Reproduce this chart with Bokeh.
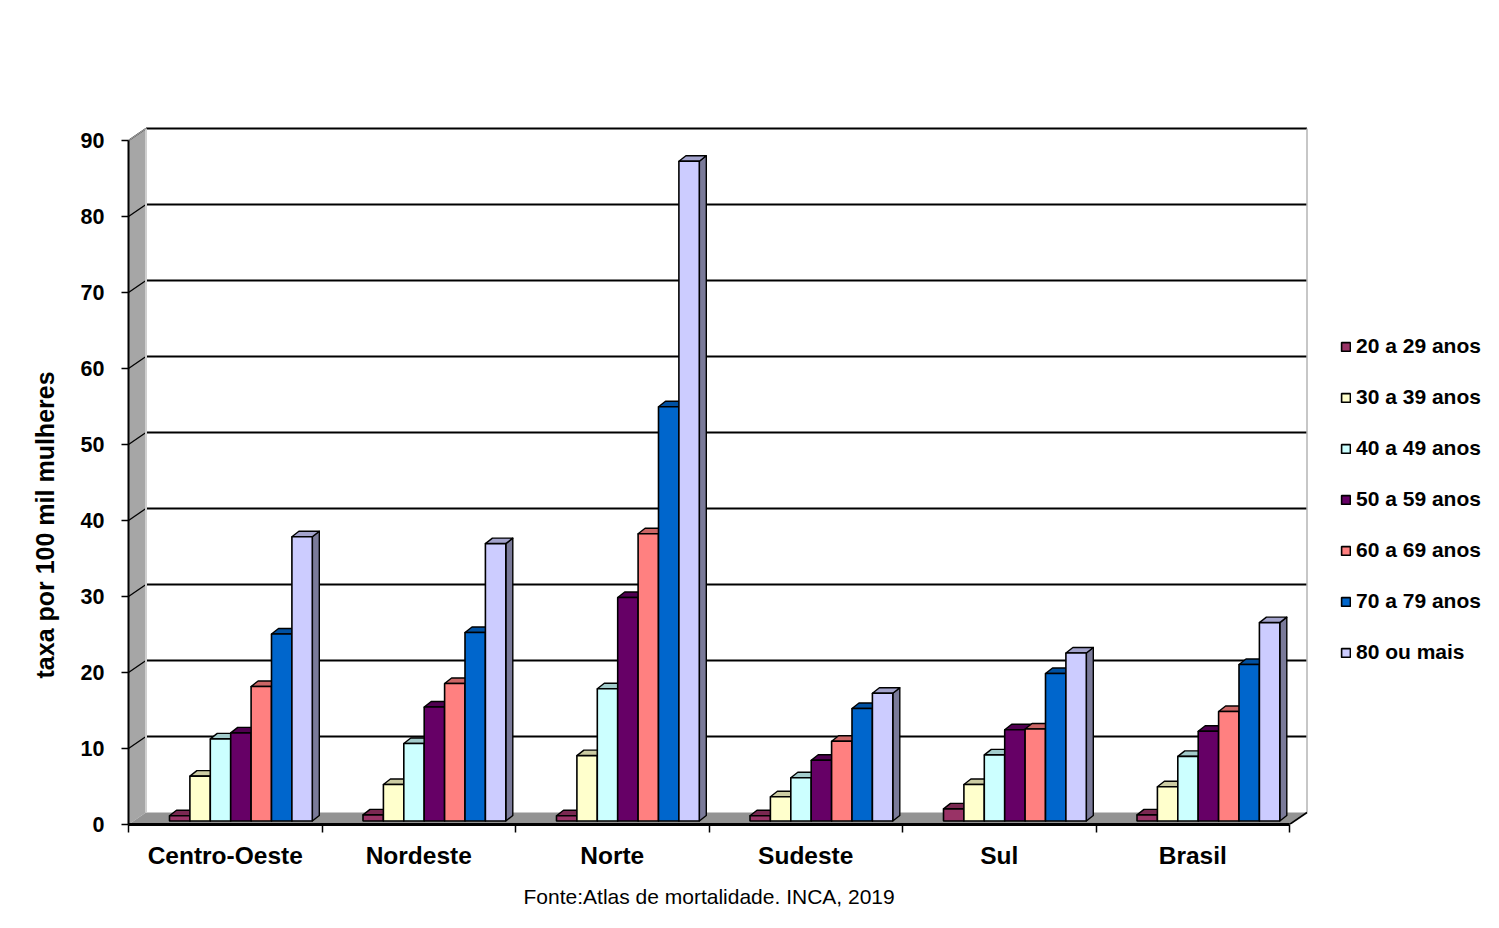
from bokeh.plotting import figure
from bokeh.models import (Range1d, LinearAxis, FixedTicker, Legend, LegendItem,
                          Title, ColumnDataSource)
from bokeh.embed import file_html
from bokeh.resources import INLINE

# ---------------- data ----------------
regions = ["Centro-Oeste", "Nordeste", "Norte", "Sudeste", "Sul", "Brasil"]
age_groups = ["20 a 29 anos", "30 a 39 anos", "40 a 49 anos", "50 a 59 anos",
              "60 a 69 anos", "70 a 79 anos", "80 ou mais"]
a20_29 = [0.7, 0.8, 0.7, 0.7, 1.6, 0.8]
a30_39 = [5.9, 4.8, 8.6, 3.2, 4.8, 4.5]
a40_49 = [10.8, 10.2, 17.4, 5.7, 8.7, 8.5]
a50_59 = [11.6, 15.0, 29.4, 8.0, 12.0, 11.8]
a60_69 = [17.7, 18.1, 37.8, 10.5, 12.1, 14.4]
a70_79 = [24.6, 24.8, 54.5, 14.8, 19.4, 20.6]
a80_mais = [37.4, 36.5, 86.8, 16.8, 22.1, 26.1]
series = [a20_29, a30_39, a40_49, a50_59, a60_69, a70_79, a80_mais]
y_ticks = [0, 10, 20, 30, 40, 50, 60, 70, 80, 90]
y_title = "taxa por 100 mil mulheres"
source_note = "Fonte:Atlas de mortalidade. INCA, 2019"

# ---------------- style ----------------
colors = ["#993366", "#FFFFCC", "#CCFFFF", "#660066", "#FF8080", "#0066CC", "#CCCCFF"]
FONT = "Liberation Sans"


def shade(hex_color, f):
    h = hex_color.lstrip("#")
    r, g, b = (int(h[i:i + 2], 16) for i in (0, 2, 4))
    return "#%02x%02x%02x" % (int(r * f), int(g * f), int(b * f))


PX_X = 193.5          # pixels per category
PX_Y = 7.6            # pixels per unit
FW, FH = 1367, 704
Y_MAX = 90

DXW = 17.5 / PX_X     # wall depth offset
DYW = 12.0 / PX_Y
DXB = 7.0 / PX_X      # bar depth offset
DYB = 5.5 / PX_Y
BASE = 3.5 / PX_Y     # bar front plane lift
BW = 20.4 / PX_X      # bar width
GOFF = -0.2881        # first bar left edge relative to category centre

p = figure(frame_width=FW, frame_height=FH,
           x_range=Range1d(-0.5, -0.5 + FW / PX_X),
           y_range=Range1d(0, FH / PX_Y),
           x_axis_type=None, y_axis_type=None,
           output_backend="svg", toolbar_location=None,
           min_border_left=128, min_border_top=120, min_border_bottom=92,
           min_border_right=0, outline_line_color=None,
           background_fill_color="white", border_fill_color="white")

n = len(regions)
xl, xr = -0.5, n - 0.5

# left wall
p.patch([xl, xl + DXW, xl + DXW, xl], [0, DYW, Y_MAX + DYW, Y_MAX],
        fill_color="#a6a6a6", line_color=None)
# floor
p.patch([xl, xr, xr + DXW, xl + DXW], [0, 0, DYW, DYW],
        fill_color="#939393", line_color=None)

# back-wall grid lines
gv = [v for v in y_ticks if v > 0]
p.segment(x0=[xl + DXW] * len(gv), y0=[v + DYW for v in gv],
          x1=[xr + DXW] * len(gv), y1=[v + DYW for v in gv],
          line_color="black", line_width=2)
# grid lines on left wall (diagonals)
p.segment(x0=[xl] * len(gv), y0=gv, x1=[xl + DXW] * len(gv), y1=[v + DYW for v in gv],
          line_color="black", line_width=1.3)
# wall edges
p.segment(x0=[xl + DXW], y0=[DYW], x1=[xl + DXW], y1=[Y_MAX + DYW],
          line_color="#cfcfcf", line_width=2)
p.segment(x0=[xr + DXW], y0=[DYW], x1=[xr + DXW], y1=[Y_MAX + DYW],
          line_color="#b4b4b4", line_width=1.5)
p.segment(x0=[xl], y0=[Y_MAX], x1=[xl + DXW], y1=[Y_MAX + DYW],
          line_color="#9a9a9a", line_width=1.3)
p.segment(x0=[xr], y0=[0], x1=[xr + DXW], y1=[DYW],
          line_color="black", line_width=1.6)

# bars
legend_items = []
for j, (vals, col) in enumerate(zip(series, colors)):
    x0s = [i + GOFF + j * BW for i in range(n)]
    x1s = [x + BW for x in x0s]
    tops = [BASE + v for v in vals]
    side_xs = [[x1, x1 + DXB, x1 + DXB, x1] for x1 in x1s]
    side_ys = [[BASE, BASE + DYB, t + DYB, t] for t in tops]
    top_xs = [[x0, x1, x1 + DXB, x0 + DXB] for x0, x1 in zip(x0s, x1s)]
    top_ys = [[t, t, t + DYB, t + DYB] for t in tops]
    p.patches(side_xs, side_ys, fill_color=shade(col, 0.6), line_color="black",
              line_width=1.4, line_join="round")
    p.patches(top_xs, top_ys, fill_color=shade(col, 0.8), line_color="black",
              line_width=1.4, line_join="round")
    src = ColumnDataSource(dict(left=x0s, right=x1s, bottom=[BASE] * n, top=tops))
    r = p.quad(left="left", right="right", bottom="bottom", top="top", source=src,
               fill_color=col, line_color="black", line_width=1.6)
    legend_items.append(LegendItem(label=age_groups[j], renderers=[r]))

# axes
yaxis = LinearAxis(ticker=FixedTicker(ticks=y_ticks), bounds=(0, Y_MAX),
                   axis_line_color="black", axis_line_width=2,
                   major_tick_out=7, major_tick_in=0, major_tick_line_width=1.5,
                   minor_tick_out=0, minor_tick_in=0,
                   major_label_standoff=17,
                   major_label_text_font=FONT, major_label_text_font_style="bold",
                   major_label_text_font_size="21.5px", major_label_text_color="black")
p.add_layout(yaxis, "left")

# y title as a left-side title, placed where the original has it
p.add_layout(Title(text=y_title, align="left", offset=146, standoff=38,
                   text_font=FONT, text_font_style="bold",
                   text_font_size="25px", text_color="black"), "left")

xaxis = LinearAxis(ticker=FixedTicker(ticks=list(range(n)),
                                      minor_ticks=[i - 0.5 for i in range(n + 1)]),
                   bounds=(xl, xr),
                   major_label_overrides={i: regions[i] for i in range(n)},
                   axis_line_color="black", axis_line_width=3,
                   major_tick_out=0, major_tick_in=0, major_tick_line_color=None,
                   minor_tick_out=8, minor_tick_in=0, minor_tick_line_width=1.5,
                   minor_tick_line_color="black",
                   major_label_standoff=9,
                   major_label_text_font=FONT, major_label_text_font_style="bold",
                   major_label_text_font_size="24.5px", major_label_text_color="black")
p.add_layout(xaxis, "below")

p.add_layout(Title(text=source_note, align="left", offset=395, standoff=22,
                   text_font=FONT, text_font_style="normal",
                   text_font_size="21px", text_color="black"), "below")

legend = Legend(items=legend_items, location=(1212, 160),
                orientation="vertical", padding=0, margin=0,
                border_line_color=None, background_fill_alpha=0,
                glyph_width=11, glyph_height=11, label_standoff=5,
                label_height=20, spacing=27,
                label_text_font=FONT, label_text_font_style="bold",
                label_text_font_size="21px", label_text_color="black")
p.add_layout(legend)

open("out.html", "w").write(file_html(p, INLINE))
